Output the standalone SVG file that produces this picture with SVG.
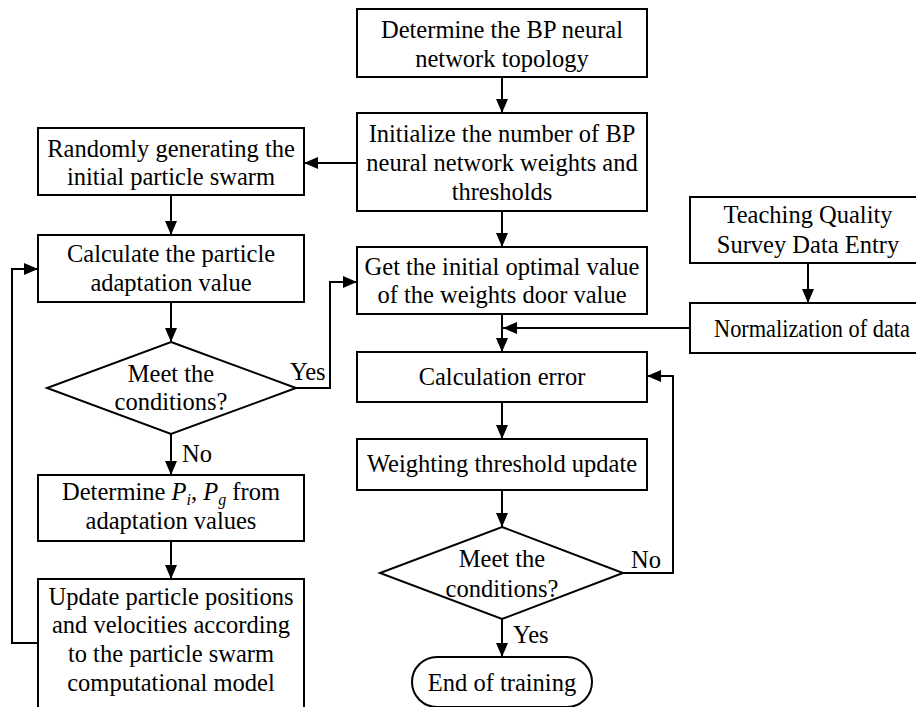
<svg xmlns="http://www.w3.org/2000/svg" width="916" height="707" viewBox="0 0 916 707">
<style>
.b{fill:#fff;stroke:#000;stroke-width:2}
.c{fill:none;stroke:#000;stroke-width:2}
text{font-family:'Liberation Serif','Times New Roman',serif;font-size:24.5px;fill:#000}
.t{text-anchor:middle}
</style>
<defs>
<marker id="a" markerWidth="14" markerHeight="12" refX="14" refY="6" orient="auto" markerUnits="userSpaceOnUse">
<path d="M0,0 L14,6 L0,12 Z" fill="#000"/>
</marker>
</defs>
<rect width="916" height="707" fill="#fff"/>
<g id="connectors">
<path class="c" d="M502,77 V113" marker-end="url(#a)"/>
<path class="c" d="M357,163 H304" marker-end="url(#a)"/>
<path class="c" d="M171,195 V235" marker-end="url(#a)"/>
<path class="c" d="M502,211 V247" marker-end="url(#a)"/>
<path class="c" d="M171,302 V342" marker-end="url(#a)"/>
<path class="c" d="M296,388 H330 V282 H357" marker-end="url(#a)"/>
<path class="c" d="M171,434 V475" marker-end="url(#a)"/>
<path class="c" d="M171,541 V579" marker-end="url(#a)"/>
<path class="c" d="M38,643 H12 V269 H38" marker-end="url(#a)"/>
<path class="c" d="M808,263 V303" marker-end="url(#a)"/>
<path class="c" d="M690,328 H503" marker-end="url(#a)"/>
<path class="c" d="M502,314 V352" marker-end="url(#a)"/>
<path class="c" d="M502,402 V439" marker-end="url(#a)"/>
<path class="c" d="M502,490 V527" marker-end="url(#a)"/>
<path class="c" d="M623,573 H673 V376 H647" marker-end="url(#a)"/>
<path class="c" d="M502,619 V657" marker-end="url(#a)"/>
<text x="290" y="380">Yes</text>
<text x="182" y="462">No</text>
<text x="631" y="568">No</text>
<text x="513" y="643">Yes</text>
</g>
<g id="n1"><rect class="b" x="357" y="9" width="290" height="68"/>
<text class="t" x="502" y="38">Determine the BP neural</text><text class="t" x="502" y="67">network topology</text></g>
<g id="n2"><rect class="b" x="357" y="113" width="290" height="98"/>
<text class="t" x="502" y="142">Initialize the number of BP</text><text class="t" x="502" y="171">neural network weights and</text><text class="t" x="502" y="200">thresholds</text></g>
<g id="n3"><rect class="b" x="38" y="128" width="266" height="67"/>
<text class="t" x="171" y="157">Randomly generating the</text><text class="t" x="171" y="185">initial particle swarm</text></g>
<g id="n4"><rect class="b" x="38" y="235" width="266" height="67"/>
<text class="t" x="171" y="262">Calculate the particle</text><text class="t" x="171" y="291">adaptation value</text></g>
<g id="n5"><path class="b" d="M171,342 L296,388 L171,434 L47,388 Z"/>
<text class="t" x="171" y="382">Meet the</text><text class="t" x="171" y="410">conditions?</text></g>
<g id="n6"><rect class="b" x="38" y="475" width="266" height="66"/>
<text class="t" x="171" y="500">Determine <tspan font-style="italic">P</tspan><tspan font-style="italic" font-size="16" dy="5">i</tspan><tspan dy="-5">, </tspan><tspan font-style="italic">P</tspan><tspan font-style="italic" font-size="16" dy="5">g</tspan><tspan dy="-5"> from</tspan></text>
<text class="t" x="171" y="529">adaptation values</text></g>
<g id="n7"><rect class="b" x="38" y="579" width="266" height="130"/>
<text class="t" x="171" y="605">Update particle positions</text><text class="t" x="171" y="633">and velocities according</text><text class="t" x="171" y="662">to the particle swarm</text><text class="t" x="171" y="691">computational model</text></g>
<g id="n8"><rect class="b" x="357" y="247" width="290" height="67"/>
<text class="t" x="502" y="275">Get the initial optimal value</text><text class="t" x="502" y="303">of the weights door value</text></g>
<g id="n9"><rect class="b" x="690" y="197" width="240" height="66"/>
<text class="t" x="808" y="223">Teaching Quality</text><text class="t" x="808" y="253">Survey Data Entry</text></g>
<g id="n10"><rect class="b" x="690" y="303" width="240" height="50"/>
<text x="714" y="337" textLength="196" lengthAdjust="spacingAndGlyphs">Normalization of data</text></g>
<g id="n11"><rect class="b" x="357" y="352" width="290" height="50"/>
<text class="t" x="502" y="385">Calculation error</text></g>
<g id="n12"><rect class="b" x="357" y="439" width="290" height="51"/>
<text class="t" x="502" y="472">Weighting threshold update</text></g>
<g id="n13"><path class="b" d="M502,527 L623,573 L502,619 L380,573 Z"/>
<text class="t" x="502" y="567">Meet the</text><text class="t" x="502" y="597">conditions?</text></g>
<g id="n14"><rect class="b" x="412" y="657" width="180" height="50" rx="25" ry="25"/>
<text class="t" x="502" y="691">End of training</text></g>
</svg>
